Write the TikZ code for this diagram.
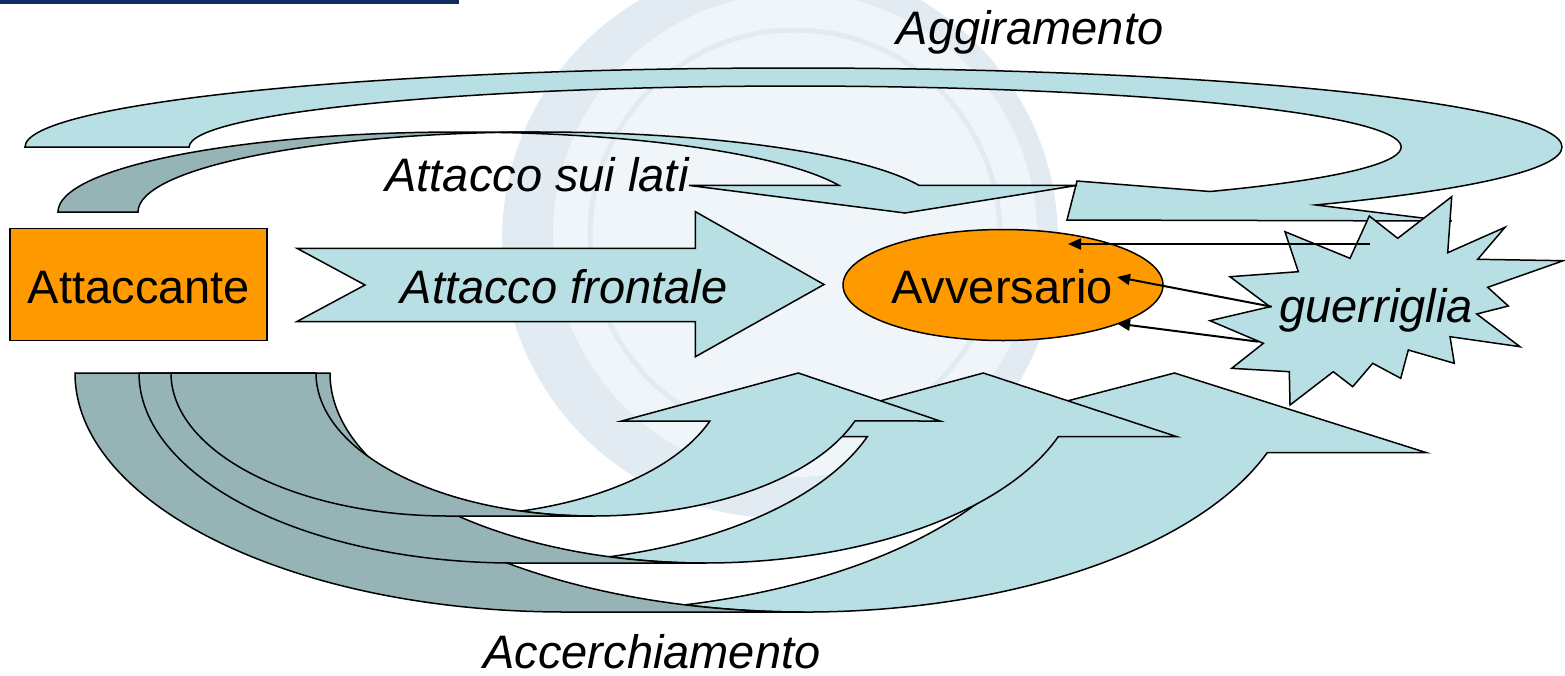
\documentclass[tikz,border=0pt]{standalone}
\usepackage{fontspec}
\setmainfont{Liberation Sans}
\usetikzlibrary{arrows.meta,shapes.geometric}
\definecolor{lightarr}{RGB}{184,223,227}
\definecolor{darkarr}{RGB}{150,179,181}
\definecolor{orangebox}{RGB}{255,153,0}
\definecolor{navybar}{RGB}{16,44,94}
\definecolor{wmring}{RGB}{226,234,242}
\definecolor{wminner}{RGB}{240,245,250}
\begin{document}
\begin{tikzpicture}[x=1pt,y=-1pt,
  shapeline/.style={draw=black, line width=1.5pt, line join=miter},
  lightpart/.style={shapeline, fill=lightarr},
  darkpart/.style={shapeline, fill=darkarr},
  orangepart/.style={shapeline, fill=orangebox},
  lbl/.style={inner sep=0pt, anchor=base, font=\fontsize{47}{56}\selectfont},
  ilbl/.style={inner sep=0pt, anchor=base, font=\fontsize{47}{56}\selectfont\itshape},
  guer/.style={draw=black, line width=2pt, -{Triangle[length=13pt,width=11pt]}}
]
\useasboundingbox (0,0) rectangle (1565,675);
% watermark
\begin{scope}
  \clip (0,0) rectangle (1565,675);
  \fill[wmring] (780,240) circle[radius=278pt];
  \fill[wminner] (795,235) circle[radius=242pt];
  \draw[wmring, line width=5pt] (795,235) circle[radius=205pt];
\end{scope}
\fill[navybar] (0,0) rectangle (459,3.5);

% Aggiramento
\path[lightpart] (25,147) arc[start angle=180, end angle=-47.2, x radius=768.5pt, y radius=79pt]
  -- (1425,218.3) -- (1451.7,221) -- (1067,220) -- (1077,181) -- (1210,191.5)
  arc[start angle=-46.8, end angle=180, x radius=606pt, y radius=61pt] -- cycle;

% Attacco sui lati
\path[lightpart] (500,132.4) arc[start angle=95.71, end angle=19.46, x radius=402pt, y radius=80pt]
  -- (1077,185.4) -- (905,213) -- (689,185.4) -- (839,185.4)
  arc[start angle=19.46, end angle=84.29, x radius=402pt, y radius=80pt] -- cycle;
\path[darkpart] (58,212) arc[start angle=180, end angle=90, x radius=402pt, y radius=80pt]
  -- (540,132) arc[start angle=90, end angle=180, x radius=402pt, y radius=80pt] -- cycle;

% Attacco frontale
\path[lightpart] (297,248.3) -- (695.4,248.3) -- (695.4,211.7) -- (824,284.5) -- (695.4,356.7)
  -- (695.4,321.5) -- (297,321.5) -- (365,285) -- cycle;

% Accerchiamento arrows (outer first)
\path[lightpart] (685.2,604.8) arc[start angle=-104.09, end angle=-19.48, x radius=490.7pt, y radius=239pt]
  -- (1426.6,452.7) -- (1174.5,373) -- (868.7,452.7) -- (1028.3,452.7)
  arc[start angle=-19.48, end angle=-75.91, x radius=490.7pt, y radius=239pt] -- cycle;
\path[darkpart] (565.7,612) arc[start angle=270, end angle=180, x radius=490.7pt, y radius=239pt]
  -- (314,373) arc[start angle=180, end angle=270, x radius=490.7pt, y radius=239pt] -- cycle;

\path[lightpart] (609.5,556.7) arc[start angle=-104.75, end angle=-19.59, x radius=375pt, y radius=190pt]
  -- (1177,436.7) -- (983.3,373) -- (748,436.7) -- (867.3,436.7)
  arc[start angle=-19.59, end angle=-75.25, x radius=375pt, y radius=190pt] -- cycle;
\path[darkpart] (514,563) arc[start angle=270, end angle=180, x radius=375pt, y radius=190pt]
  -- (330,373) arc[start angle=180, end angle=270, x radius=375pt, y radius=190pt] -- cycle;

\path[lightpart] (521,511) arc[start angle=-105.15, end angle=-19.61, x radius=277.5pt, y radius=143pt]
  -- (940,421) -- (798.3,373) -- (621.7,421) -- (709.9,421)
  arc[start angle=-19.61, end angle=-74.85, x radius=277.5pt, y radius=143pt] -- cycle;
\path[darkpart] (448.5,516) arc[start angle=270, end angle=180, x radius=277.5pt, y radius=143pt]
  -- (316,373) arc[start angle=180, end angle=270, x radius=277.5pt, y radius=143pt] -- cycle;

% guerriglia star
\path[lightpart] (1451.7,196.7) -- (1447.7,252.7) -- (1505,227.3) -- (1477.7,259.3) -- (1563.3,260.7)
  -- (1487.7,287.3) -- (1508.3,306) -- (1476.7,314) -- (1520,346.7) -- (1450,336.7) -- (1454.3,363.3)
  -- (1408.3,350) -- (1400.7,378.3) -- (1372.7,363.3) -- (1352.7,386.7) -- (1333.3,371.7) -- (1290,405)
  -- (1289.3,371.7) -- (1231.7,368.3) -- (1263.3,343.3) -- (1210,320.7) -- (1270,306.7) -- (1230,276.7)
  -- (1298.3,271.7) -- (1285,231.7) -- (1350,258.3) -- (1369.3,216) -- (1397.7,238.3) -- cycle;

% nodes
\node[orangepart, rectangle, minimum width=257pt, minimum height=112pt, inner sep=0pt] (att) at (138.5,284.5) {};
\node[orangepart, ellipse, minimum width=320pt, minimum height=111pt, inner sep=0pt] (adv) at (1003,285) {};

\node[lbl] (atttext) at (139,303) {Attaccante};
\node[lbl] (advtext) at (1002,303) {Avversario};
\node[ilbl] (frontale) at (564,303) {Attacco frontale};
\node[ilbl] (lati) at (537,191) {Attacco sui lati};
\node[ilbl] (aggir) at (1030,44) {Aggiramento};
\node[ilbl] (accer) at (652,668) {Accerchiamento};
\node[ilbl] (guerr) at (1376,322) {guerriglia};

% guerriglia arrows
\coordinate (g1s) at (1370,244);
\coordinate (g2s) at (1271.7,306.7);
\coordinate (g3s) at (1258.3,341.7);
\coordinate (g1e) at (1068,244);
\coordinate (g2e) at (1117,277);
\coordinate (g3e) at (1117,323.5);
\draw[guer] (g1s) -- (g1e);
\draw[guer] (g2s) -- (g2e);
\draw[guer] (g3s) -- (g3e);
\end{tikzpicture}
\end{document}
